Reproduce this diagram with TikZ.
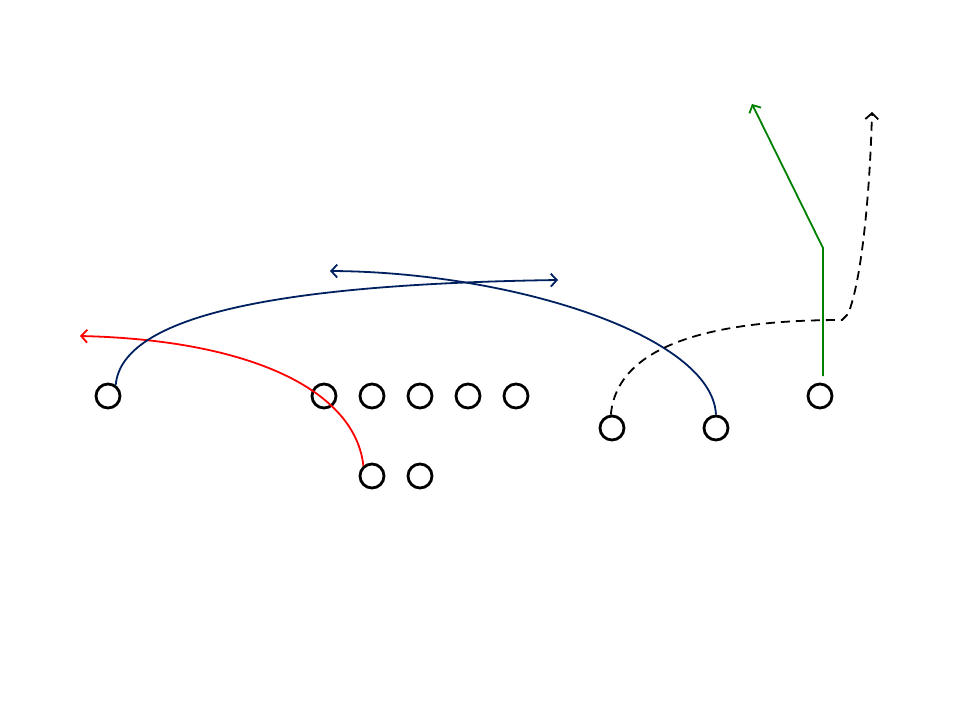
\documentclass[tikz,border=0pt]{standalone}
\usepackage{tikz}
\usetikzlibrary{positioning,arrows.meta}
\definecolor{routeblue}{RGB}{0,32,96}
\definecolor{routegreen}{RGB}{0,128,0}

\begin{document}
\begin{tikzpicture}[x=1pt, y=-1pt,
        node distance=21.2pt,
        player/.style={draw=black, fill=white, circle, minimum size=24pt, inner sep=0pt, line width=2.8pt},
        route/.style={line width=1.8pt, -{Straight Barb[length=6pt,width=13pt]}}
    ]
    \useasboundingbox (0,0) rectangle (960,720);

    % Line
    \node[player] (OL1) at (324,396) {};
    \node[right=of OL1, player] (OL2) {};
    \node[right=of OL2, player] (OL3) {};
    \node[right=of OL3, player] (OL4) {};
    \node[right=of OL4, player] (OL5) {};

    % Backfield
    \node[player] (RB1) at (372,476) {};
    \node[right=of RB1, player] (RB2) {};

    % Receivers
    \node[player] (WRL) at (108,396) {};
    \node[player] (SL1) at (612,428) {};
    \node[player] (SL2) at (716,428) {};
    \node[player] (WRR) at (820,396) {};

    % Route ends
    \coordinate (RedEnd) at (80,336);
    \coordinate (BlueEndA) at (558,280);
    \coordinate (BlueEndB) at (330,271);
    \coordinate (DashCorner) at (842,320);
    \coordinate (DashEnd) at (872,112);
    \coordinate (GreenStart) at (823,376);
    \coordinate (GreenBreak) at (823,248);
    \coordinate (GreenEnd) at (752,104);

    % Routes
    \draw[route, red] (RB1.130) .. controls (355,390) and (250,340) .. (RedEnd);
    \draw[route, routeblue] (WRL.55) .. controls (122,315) and (280,284) .. (BlueEndA);
    \draw[route, routeblue] (SL2.north) .. controls (712,335) and (510,272) .. (BlueEndB);
    \draw[route, black, dash pattern=on 9pt off 6pt] (SL1.95) .. controls (618,335) and (740,320) .. (DashCorner)
        -- (848,314) .. controls (862,280) and (870,190) .. (DashEnd);
    \draw[route, routegreen] (GreenStart) -- (GreenBreak) -- (GreenEnd);

\end{tikzpicture}
\end{document}
